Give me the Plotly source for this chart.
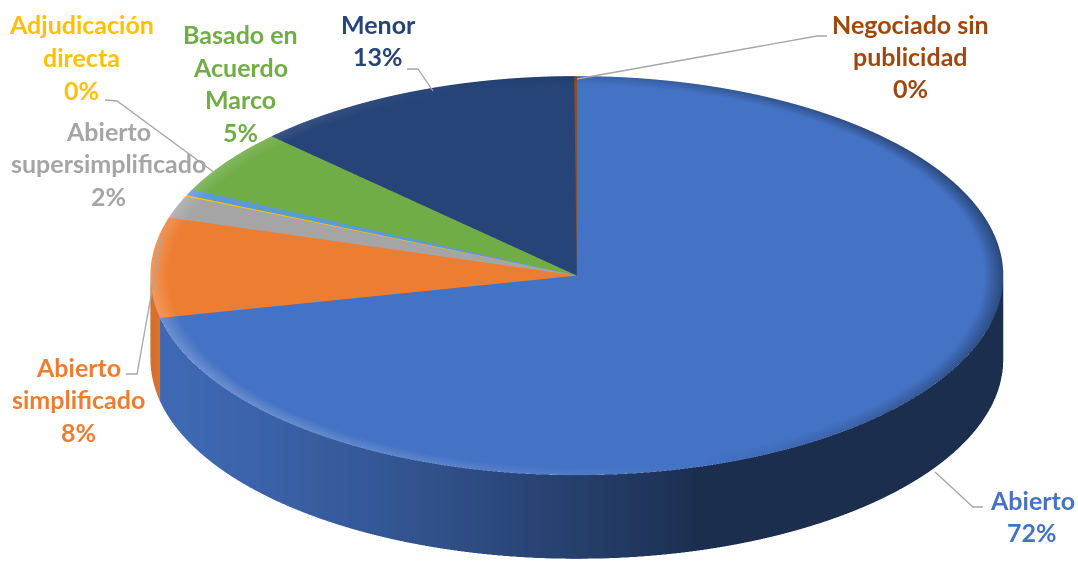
import numpy as np
import plotly.graph_objects as go

# ---------------- data ----------------
categories = ["Abierto", "Abierto simplificado", "Abierto supersimplificado",
              "Adjudicación directa", "Otros", "Basado en Acuerdo Marco",
              "Menor", "Negociado sin publicidad"]
values = [71.6, 8.1, 1.8, 0.1, 0.5, 5.2, 12.6, 0.1]
colors = ["#4472C4", "#ED7D31", "#A5A5A5", "#FFC000",
          "#5B9BD5", "#70AD47", "#264478", "#9E480E"]
label_lines = [["Abierto"], ["Abierto", "simplificado"], ["Abierto", "supersimplificado"],
               ["Adjudicación", "directa"], None, ["Basado en", "Acuerdo", "Marco"],
               ["Menor"], ["Negociado sin", "publicidad"]]

# ---------------- layout / style constants ----------------
W, H = 1078, 565
THICK = 0.222        # pie thickness relative to radius
ELEV = np.radians(27.9)
DIST = 1.6
ASP = 3.17
CEN = (-0.134, 0.0, 0.14)
BEVEL_R = 0.955
LINE_H = 32.5
FONT = "Lato"
FSIZE = 25
# label block centres (pixels)
label_pos = [(1032, 516), (78, 399), (108, 163), (81, 57), None,
             (240, 83), (378, 40), (910, 56)]
leaders = [
    [(983, 507), (973, 507), (935, 472)],
    [(126, 374), (137, 374), (162, 235)],
    None,
    [(105, 100), (117, 101), (215, 173)],
    None,
    None,
    [(407, 69), (418, 69), (433, 91)],
    [(827, 36), (817, 36), (577, 79)],
]


def shade(hexc, f):
    rgb = np.array([int(hexc[i:i + 2], 16) for i in (1, 3, 5)], dtype=float)
    if f <= 1:
        out = rgb * f
    else:
        out = rgb + (255 - rgb) * min(f - 1, 1)
    out = np.clip(np.round(out), 0, 255).astype(int)
    return f"rgb({out[0]},{out[1]},{out[2]})"


def light(phi):
    # directional light from the upper left / front
    return -0.49 * np.sin(phi) - 0.15 * np.cos(phi)


def slice_mesh(a0, a1, h, col):
    n = max(2, int(np.ceil((a1 - a0) / np.radians(1.0))) + 1)
    phi = np.linspace(a0, a1, n)
    xs, ys = np.sin(phi), np.cos(phi)
    X, Y, Z, C = [0.0], [0.0], [0.0], [shade(col, 1.0)]
    # inner ring of top face
    X += list(xs * BEVEL_R); Y += list(ys * BEVEL_R); Z += [0.0] * n
    C += [shade(col, 1.0)] * n
    # outer ring (bevel edge)
    X += list(xs); Y += list(ys); Z += [0.0] * n
    for p in phi:
        s = light(p) / 0.512
        C.append(shade(col, 1 + 0.22 * s if s > 0 else 1 + 0.38 * s))
    # side, top and bottom rings
    X += list(xs) + list(xs); Y += list(ys) + list(ys)
    Z += [0.0] * n + [-h] * n
    side = [shade(col, 0.4 + max(0.0, light(p))) for p in phi]
    C += side + side
    I, J, K = [], [], []
    r1, r2, s_t, s_b = 1, 1 + n, 1 + 2 * n, 1 + 3 * n
    for k in range(n - 1):
        I.append(0); J.append(r1 + k); K.append(r1 + k + 1)
        I += [r1 + k, r1 + k + 1]; J += [r2 + k, r2 + k]; K += [r1 + k + 1, r2 + k + 1]
        I += [s_t + k, s_t + k + 1]; J += [s_b + k, s_b + k]; K += [s_t + k + 1, s_b + k + 1]
    return X, Y, Z, I, J, K, C


total = sum(values)
fig = go.Figure()
start = 0.0
for cat, v, c in zip(categories, values, colors):
    span = 2 * np.pi * v / total
    X, Y, Z, I, J, K, C = slice_mesh(start, start + span, THICK, c)
    fig.add_trace(go.Mesh3d(
        x=X, y=Y, z=Z, i=I, j=J, k=K, vertexcolor=C, name=cat,
        flatshading=False, hoverinfo="skip",
        lighting=dict(ambient=1.0, diffuse=0.0, specular=0.0, roughness=1.0,
                      fresnel=0.0),
    ))
    start += span

annotations = []
shapes = []
for lines, pos, v, c, ld in zip(label_lines, label_pos, values, colors, leaders):
    if lines is None:
        continue
    txt = lines + [f"{v / total * 100:.0f}%"]
    n = len(txt)
    for idx, t in enumerate(txt):
        py = pos[1] + (idx - (n - 1) / 2) * LINE_H
        annotations.append(dict(
            x=pos[0] / W, y=1 - py / H, xref="paper", yref="paper",
            text=f"<b>{t}</b>", showarrow=False, xanchor="center", yanchor="middle",
            font=dict(family=FONT, size=FSIZE, color=c)))
    if ld:
        path = "M " + " L ".join(f"{px / W:.5f},{1 - py / H:.5f}" for px, py in ld)
        shapes.append(dict(type="path", path=path, xref="paper", yref="paper",
                           line=dict(color="#A6A6A6", width=1.3)))

eye_dir = np.array([0.0, -np.cos(ELEV), np.sin(ELEV)]) * DIST
fig.update_layout(
    width=W, height=H, margin=dict(l=0, r=0, t=0, b=0),
    paper_bgcolor="white", showlegend=False, hovermode=False,
    annotations=annotations, shapes=shapes,
    scene=dict(
        domain=dict(x=[0, 1], y=[0, 1]),
        xaxis=dict(visible=False, range=[-1.05, 1.05]),
        yaxis=dict(visible=False, range=[-1.05, 1.05]),
        zaxis=dict(visible=False, range=[-THICK, 0]),
        aspectmode="manual", aspectratio=dict(x=ASP, y=ASP, z=ASP * THICK / 2.1),
        bgcolor="white",
        camera=dict(projection=dict(type="orthographic"),
                    up=dict(x=0, y=0, z=1),
                    center=dict(x=CEN[0], y=CEN[1], z=CEN[2]),
                    eye=dict(x=CEN[0] + eye_dir[0], y=CEN[1] + eye_dir[1],
                             z=CEN[2] + eye_dir[2])),
    ),
)
fig.write_html("out.html", config={"displayModeBar": False},
               post_script="document.body.style.margin='0';")
